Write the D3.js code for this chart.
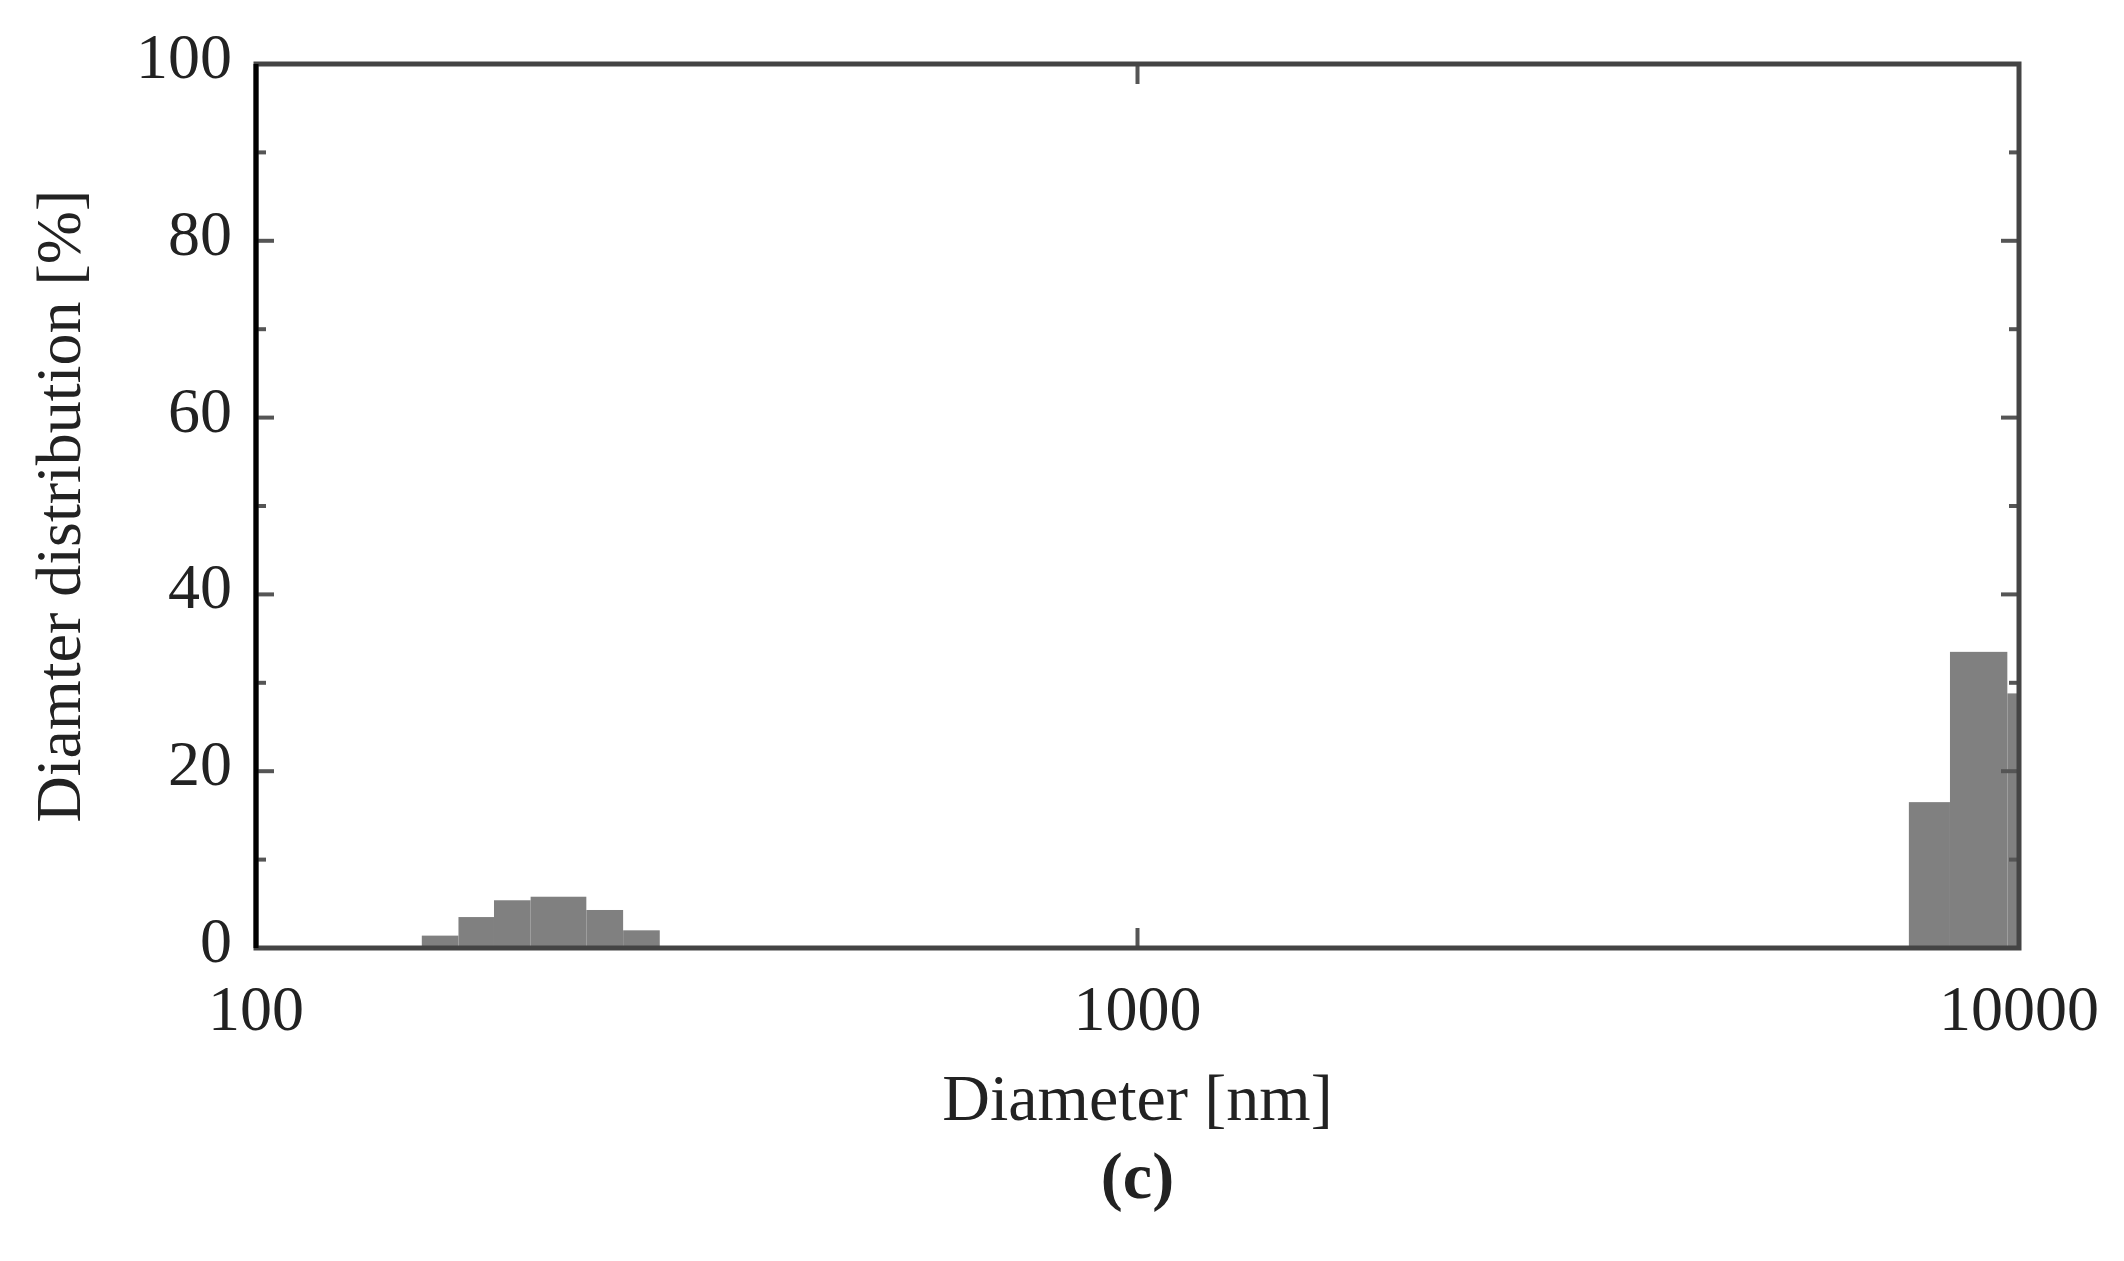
<!DOCTYPE html><html><head><meta charset="utf-8"><script src="https://cdn.jsdelivr.net/npm/d3@7"></script>
<style>body{margin:0;background:#fff}text{font-family:"Liberation Serif","DejaVu Serif",serif;fill:#222}</style></head><body><svg id="c" width="2124" height="1261"></svg><script>
const binLo=[154.2,169.7,186.2,204.9,237.0,260.9,7500,8350,9700];
const binHi=[169.7,186.2,204.9,237.0,260.9,287.1,8350,9700,10600];
const values=[1.4,3.5,5.4,5.8,4.3,2.0,16.5,33.5,28.8];
const xTicks=[100,1000,10000];
const yTicks=[0,20,40,60,80,100];
const svg=d3.select("#c");
const L=256,R=2019,T=64,B=948;
const x=d3.scaleLog().domain([100,10000]).range([L,R]);
const y=d3.scaleLinear().domain([0,100]).range([B,T]);
svg.append("clipPath").attr("id","cp").append("rect").attr("x",L).attr("y",T).attr("width",R-L).attr("height",B-T);
svg.append("g").attr("clip-path","url(#cp)").selectAll("rect").data(values).join("rect")
 .attr("x",(d,i)=>x(binLo[i])).attr("width",(d,i)=>x(binHi[i])-x(binLo[i]))
 .attr("y",d=>y(d)).attr("height",d=>B-y(d)).attr("fill","#808080");
const g=svg.append("g").attr("stroke","#555");
d3.range(10,100,10).forEach(v=>{const len=v%20===0?18:10;
 g.append("line").attr("x1",L).attr("x2",L+len).attr("y1",y(v)).attr("y2",y(v)).attr("stroke-width",4);
 g.append("line").attr("x1",R).attr("x2",R-len).attr("y1",y(v)).attr("y2",y(v)).attr("stroke-width",4);});
g.append("line").attr("x1",x(1000)).attr("x2",x(1000)).attr("y1",B).attr("y2",B-20).attr("stroke-width",4);
g.append("line").attr("x1",x(1000)).attr("x2",x(1000)).attr("y1",T).attr("y2",T+20).attr("stroke-width",4);
svg.append("rect").attr("x",L).attr("y",T).attr("width",R-L).attr("height",B-T).attr("fill","none").attr("stroke","#444").attr("stroke-width",5);
svg.append("line").attr("x1",L).attr("x2",L).attr("y1",T).attr("y2",B).attr("stroke","#000").attr("stroke-width",5);
svg.selectAll(".yt").data(yTicks).join("text").attr("x",L-24).attr("y",d=>y(d)+14).attr("text-anchor","end").attr("font-size",64).text(d=>d);
svg.selectAll(".xt").data(xTicks).join("text").attr("x",d=>x(d)).attr("y",B+82).attr("text-anchor","middle").attr("font-size",64).text(d=>d);
svg.append("text").attr("x",(L+R)/2).attr("y",1120).attr("text-anchor","middle").attr("font-size",66).text("Diameter [nm]");
svg.append("text").attr("transform",`translate(80,${(T+B)/2}) rotate(-90)`).attr("text-anchor","middle").attr("font-size",64).text("Diamter distribution [%]");
svg.append("text").attr("x",(L+R)/2).attr("y",1198).attr("text-anchor","middle").attr("font-size",66).attr("font-weight","bold").text("(c)");
</script></body></html>
